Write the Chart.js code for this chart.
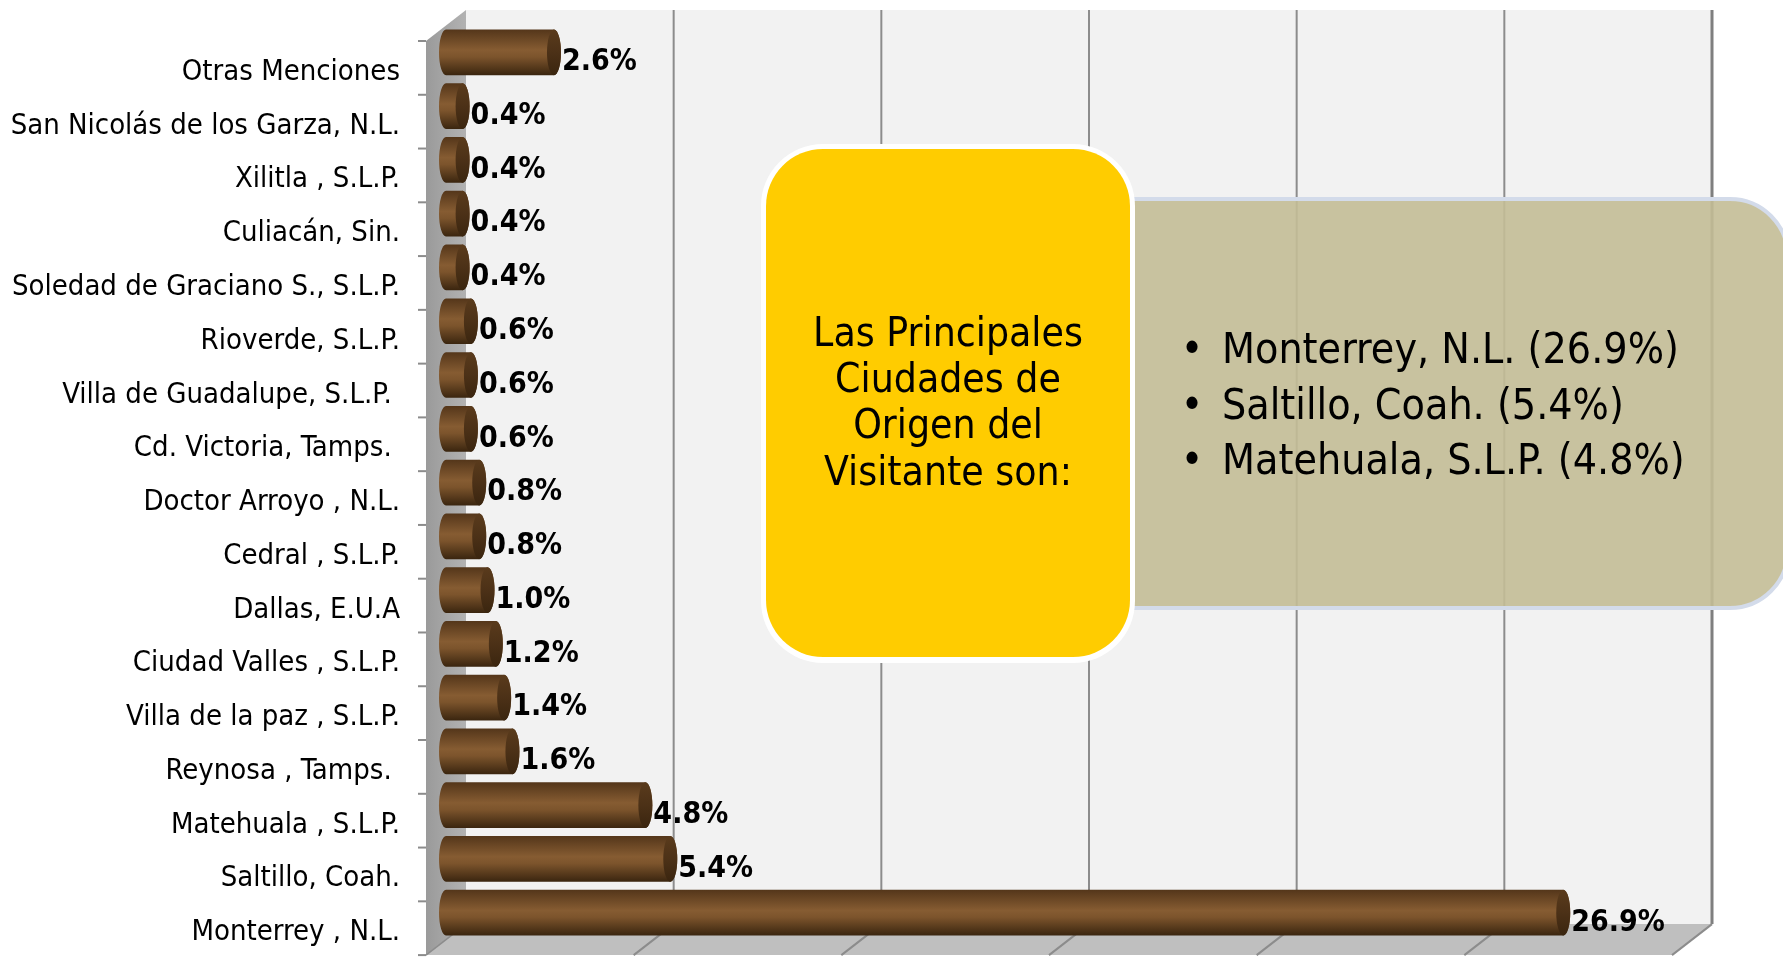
<!DOCTYPE html>
<html>
<head>
<meta charset="utf-8">
<script src="https://cdn.jsdelivr.net/npm/chart.js@4"></script>
<style>
    body { margin: 0; background: #ffffff; }
    #wrap { width: 1783px; height: 957px; position: relative; }
</style>
</head>
<body>
<div id="wrap"><canvas id="ciudades"></canvas></div>
<script>
// categories top to bottom
const ciudades = [
    "Otras Menciones",
    "San Nicolás de los Garza, N.L.",
    "Xilitla , S.L.P.",
    "Culiacán, Sin.",
    "Soledad de Graciano S., S.L.P.",
    "Rioverde, S.L.P.",
    "Villa de Guadalupe, S.L.P. ",
    "Cd. Victoria, Tamps. ",
    "Doctor Arroyo , N.L.",
    "Cedral , S.L.P.",
    "Dallas, E.U.A",
    "Ciudad Valles , S.L.P.",
    "Villa de la paz , S.L.P.",
    "Reynosa , Tamps. ",
    "Matehuala , S.L.P.",
    "Saltillo, Coah.",
    "Monterrey , N.L.",
];
const porcentajes = [2.6, 0.4, 0.4, 0.4, 0.4, 0.6, 0.6, 0.6, 0.8, 0.8, 1.0, 1.2, 1.4, 1.6, 4.8, 5.4, 26.9];
const gridValues = [0, 5, 10, 15, 20, 25, 30];

const tituloLineas = ["Las Principales", "Ciudades de", "Origen del", "Visitante son:"];
const principales = ["Monterrey, N.L. (26.9%)", "Saltillo, Coah. (5.4%)", "Matehuala, S.L.P. (4.8%)"];

const FONT = "'DejaVu Sans Condensed', 'DejaVu Sans'";

// 3D depth: back wall is up-right of the bar plane, front is down-left
const DX = 20;
const DY = 15.5;
const CAP = 7;

function drawCylinder(ctx, x, y, base, h) {
    const top = y - h / 2, bot = y + h / 2;
    const g = ctx.createLinearGradient(0, top, 0, bot);
    g.addColorStop(0, "#54361a");
    g.addColorStop(0.45, "#865c32");
    g.addColorStop(0.6, "#7c542c");
    g.addColorStop(1, "#3a250f");
    ctx.beginPath();
    ctx.moveTo(x, top);
    ctx.lineTo(base, top);
    ctx.ellipse(base, y, CAP, h / 2, 0, -Math.PI / 2, Math.PI / 2, true);
    ctx.lineTo(x, bot);
    ctx.ellipse(x, y, CAP, h / 2, 0, Math.PI / 2, -Math.PI / 2, true);
    ctx.closePath();
    ctx.fillStyle = g;
    ctx.fill();

    const c = ctx.createLinearGradient(0, top, 0, bot);
    c.addColorStop(0, "#5a3b1c");
    c.addColorStop(0.5, "#4c3117");
    c.addColorStop(1, "#3a250f");
    ctx.beginPath();
    ctx.ellipse(x, y, CAP, h / 2, 0, 0, Math.PI * 2);
    ctx.fillStyle = c;
    ctx.fill();
}

const scene3d = {
    id: "scene3d",
    beforeDatasetsDraw(chart) {
        const { ctx, chartArea: a, scales: { x } } = chart;
        const bTop = a.top - DY, bBot = a.bottom - DY;
        const n = ciudades.length;
        ctx.save();

        // back wall
        ctx.fillStyle = "#f2f2f2";
        ctx.fillRect(a.left + DX, bTop, a.right - a.left, bBot - bTop);

        // left wall
        const lw = ctx.createLinearGradient(a.left - DX, 0, a.left + DX, 0);
        lw.addColorStop(0, "#9a9a9a");
        lw.addColorStop(1, "#b2b2b2");
        ctx.beginPath();
        ctx.moveTo(a.left + DX, bTop);
        ctx.lineTo(a.left + DX, bBot);
        ctx.lineTo(a.left - DX, a.bottom + DY);
        ctx.lineTo(a.left - DX, a.top + DY);
        ctx.closePath();
        ctx.fillStyle = lw;
        ctx.fill();

        // floor
        ctx.beginPath();
        ctx.moveTo(a.left + DX, bBot);
        ctx.lineTo(a.right + DX, bBot);
        ctx.lineTo(a.right - DX, a.bottom + DY);
        ctx.lineTo(a.left - DX, a.bottom + DY);
        ctx.closePath();
        ctx.fillStyle = "#bfbfbf";
        ctx.fill();

        // gridlines on back wall and floor
        gridValues.forEach(v => {
            if (v === 0) return;
            const px = x.getPixelForValue(v);
            ctx.strokeStyle = v === 30 ? "#7f7f7f" : "#8c8c8c";
            ctx.lineWidth = v === 30 ? 3 : 2;
            ctx.beginPath();
            ctx.moveTo(px + DX, bTop);
            ctx.lineTo(px + DX, bBot);
            ctx.stroke();
            ctx.strokeStyle = "#8c8c8c";
            ctx.lineWidth = 2;
            ctx.beginPath();
            ctx.moveTo(px + DX, bBot);
            ctx.lineTo(px - DX, a.bottom + DY);
            ctx.stroke();
        });
        ctx.strokeStyle = "#8c8c8c";
        ctx.lineWidth = 1.5;
        ctx.beginPath();
        ctx.moveTo(a.left + DX, bBot);
        ctx.lineTo(a.left - DX, a.bottom + DY);
        ctx.stroke();

        // category tick marks on the front edge
        ctx.strokeStyle = "#8c8c8c";
        ctx.lineWidth = 2;
        for (let i = 0; i <= n; i++) {
            const yy = a.top + i * (a.bottom - a.top) / n + DY;
            ctx.beginPath();
            ctx.moveTo(a.left - DX - 8, yy);
            ctx.lineTo(a.left - DX, yy);
            ctx.stroke();
        }
        ctx.restore();
    },
    afterDatasetsDraw(chart) {
        const { ctx } = chart;
        const meta = chart.getDatasetMeta(0);
        ctx.save();
        meta.data.forEach((bar, i) => {
            const p = bar.getProps(["x", "y", "base", "height"], true);
            drawCylinder(ctx, p.x, p.y, p.base, p.height);
            ctx.font = "bold 30px " + FONT;
            ctx.fillStyle = "#000000";
            ctx.textAlign = "left";
            ctx.textBaseline = "middle";
            ctx.fillText(porcentajes[i].toFixed(1) + "%", p.x + CAP + 1, p.y + 10);
        });
        ctx.restore();
    },
    afterDraw(chart) {
        const { ctx } = chart;
        ctx.save();

        // tan list box
        ctx.beginPath();
        ctx.roundRect(1120, 199, 668, 409, [0, 58, 58, 0]);
        ctx.fillStyle = "rgba(195, 188, 150, 0.9)";
        ctx.fill();
        ctx.strokeStyle = "#d3dbea";
        ctx.lineWidth = 4;
        ctx.stroke();

        ctx.fillStyle = "#000000";
        ctx.font = "42.5px " + FONT;
        ctx.textBaseline = "middle";
        principales.forEach((t, i) => {
            const yy = 352 + i * 55.5;
            ctx.textAlign = "center";
            ctx.fillText("•", 1192, yy);
            ctx.textAlign = "left";
            ctx.fillText(t, 1222, yy);
        });

        // yellow title box
        ctx.beginPath();
        ctx.roundRect(761, 144, 374, 519, 62);
        ctx.fillStyle = "#ffffff";
        ctx.fill();
        ctx.beginPath();
        ctx.roundRect(766, 149, 364, 508, 57);
        ctx.fillStyle = "#ffcc00";
        ctx.fill();

        ctx.fillStyle = "#000000";
        ctx.font = "40.5px " + FONT;
        ctx.textAlign = "center";
        tituloLineas.forEach((t, i) => {
            ctx.fillText(t, 948, 335 + i * 46.4);
        });
        ctx.restore();
    },
};

new Chart(document.getElementById("ciudades"), {
    type: "bar",
    data: {
        labels: ciudades,
        datasets: [
            {
                label: "Ciudad de origen",
                data: porcentajes,
                backgroundColor: "rgba(0, 0, 0, 0)",
                borderWidth: 0,
                barPercentage: 0.85,
                categoryPercentage: 1,
            },
        ],
    },
    options: {
        indexAxis: "y",
        responsive: true,
        maintainAspectRatio: false,
        animation: false,
        layout: {
            padding: { top: 25.5, bottom: 11.5, right: 91, left: 0 },
        },
        scales: {
            x: {
                display: false,
                min: 0,
                max: 30,
            },
            y: {
                grid: { display: false, drawTicks: true, tickLength: 46 },
                border: { display: false },
                afterFit(scale) {
                    scale.width = 446;
                },
                ticks: {
                    color: "#000000",
                    padding: 0,
                    labelOffset: 20,
                    font: { family: FONT, size: 29 },
                },
            },
        },
        plugins: {
            legend: { display: false },
            tooltip: { enabled: false },
        },
    },
    plugins: [scene3d],
});
</script>
</body>
</html>
